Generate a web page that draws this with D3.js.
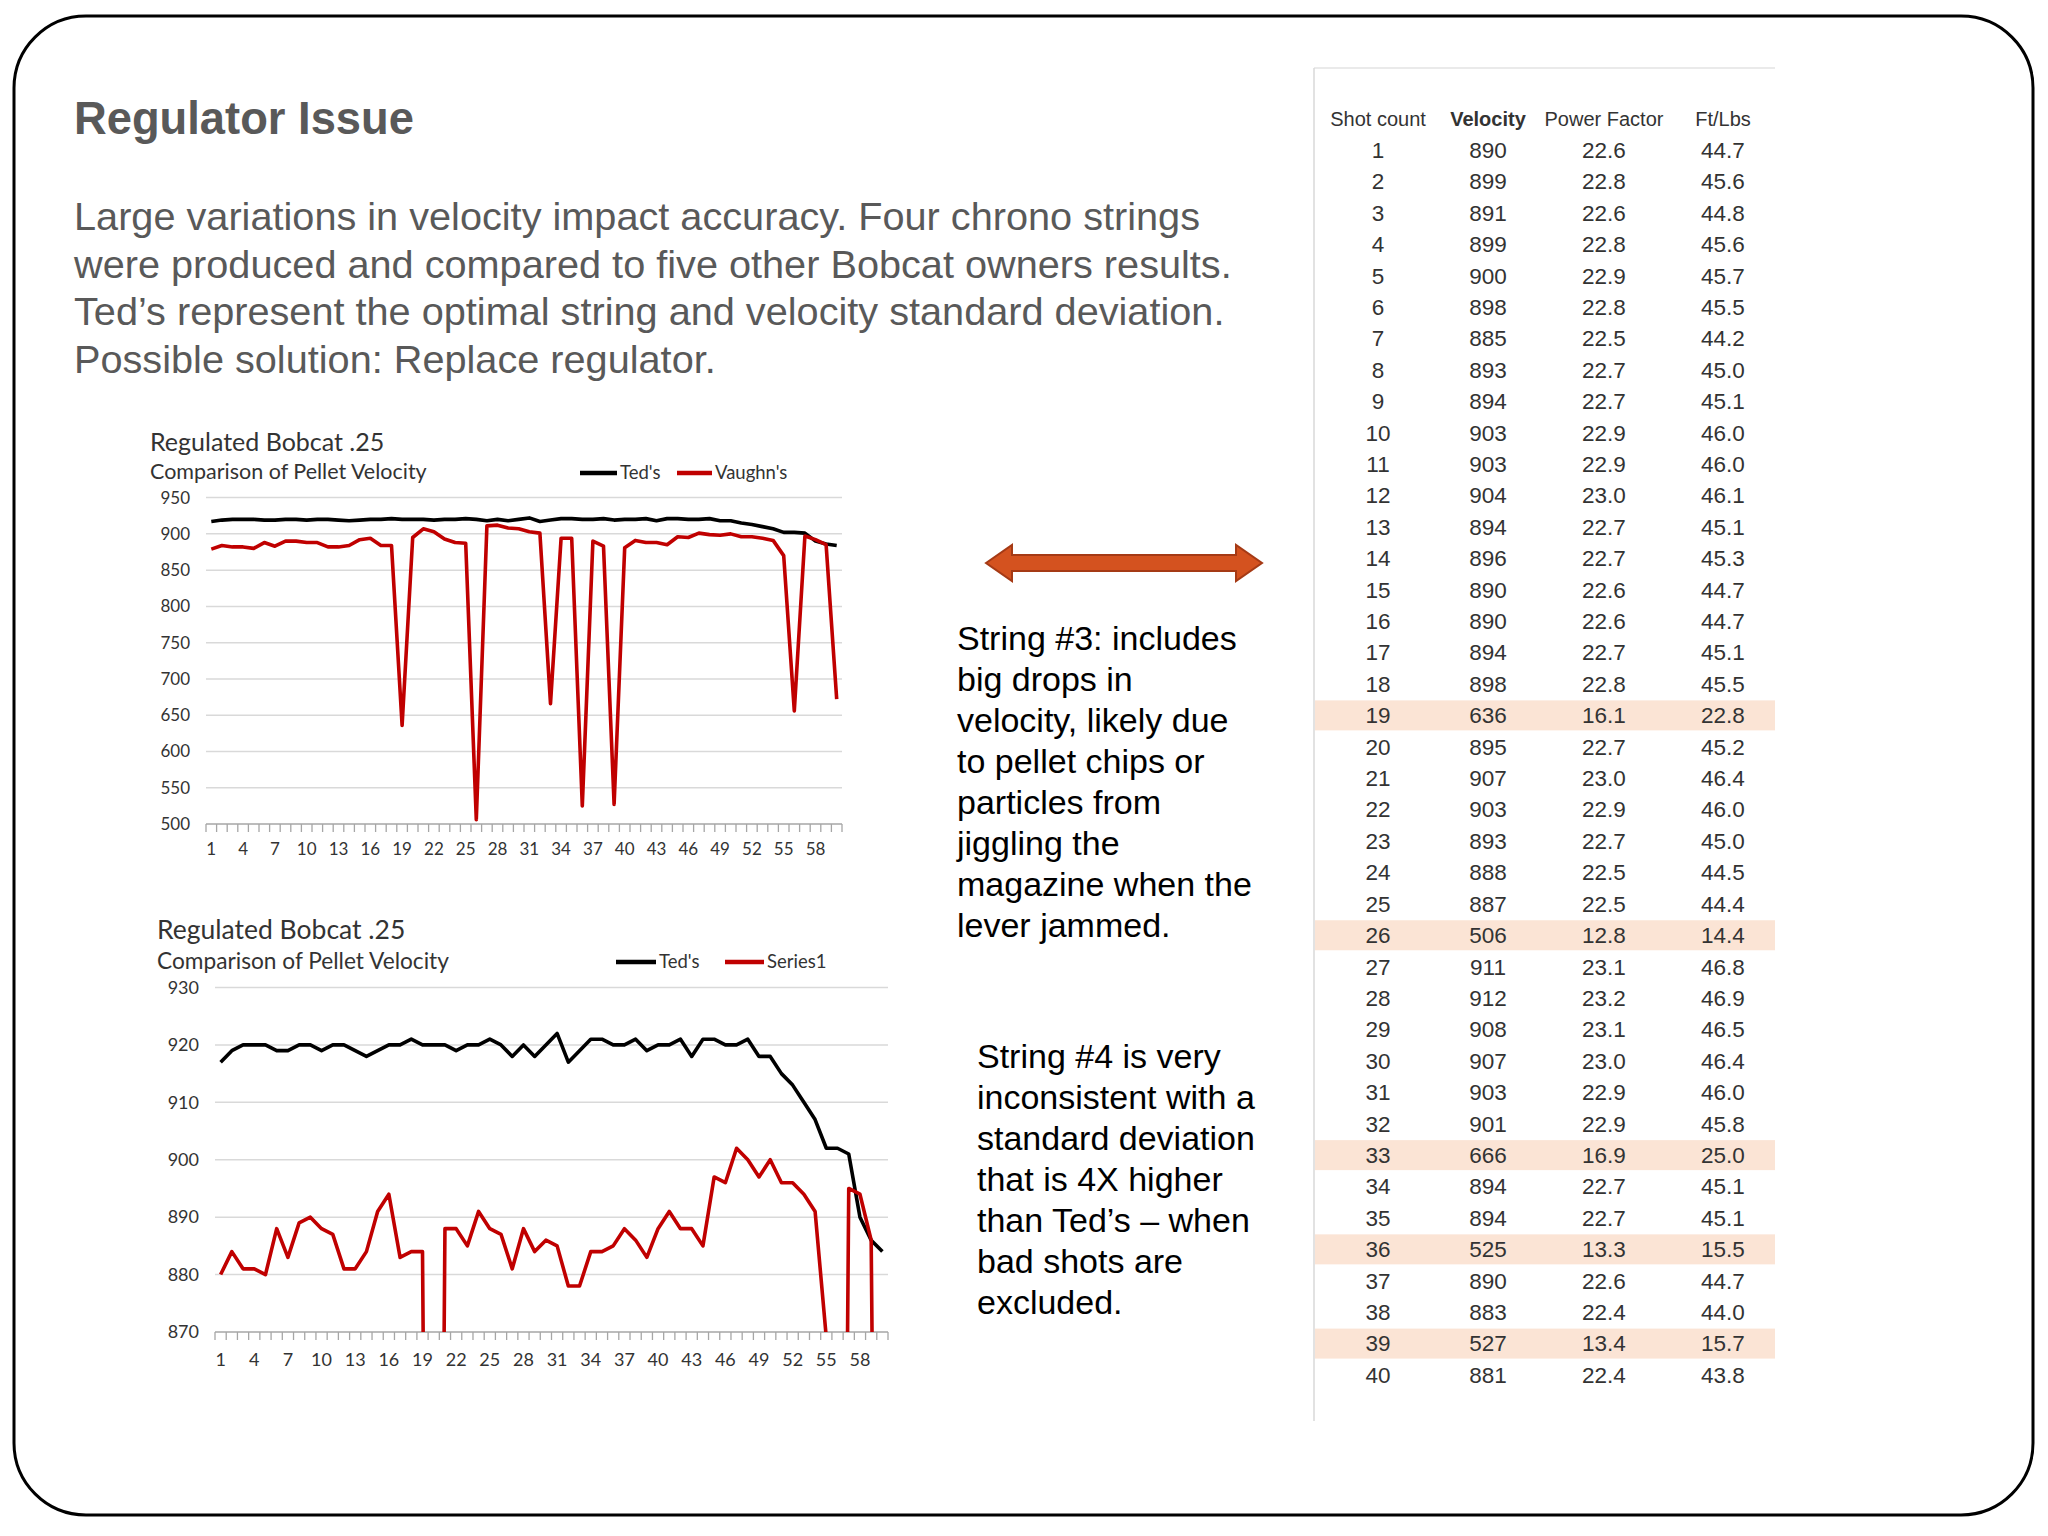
<!DOCTYPE html>
<html><head><meta charset="utf-8">
<script src="https://cdn.jsdelivr.net/npm/d3@7/dist/d3.min.js"></script>
<style>html,body{margin:0;padding:0;background:#fff;}svg{display:block}</style>
</head><body>
<svg id="c" width="2048" height="1536"></svg>
<script>
// ---------------- DATA ----------------
const shotCategories = [1,2,3,4,5,6,7,8,9,10,11,12,13,14,15,16,17,18,19,20,21,22,23,24,25,26,27,28,29,30,
  31,32,33,34,35,36,37,38,39,40,41,42,43,44,45,46,47,48,49,50,51,52,53,54,55,56,57,58,59,60];
const xTickLabels = [1,4,7,10,13,16,19,22,25,28,31,34,37,40,43,46,49,52,55,58];

const tedsVelocity = [917,919,920,920,920,919,919,920,920,919,920,920,919,918,919,920,920,921,920,920,
  920,919,920,920,921,920,918,920,918,920,922,917,919,921,921,920,920,921,919,920,
  920,921,918,921,921,920,920,921,918,918,915,913,910,907,902,902,901,890,886,884];
const vaughnsVelocity = [879,884,882,882,880,888,883,890,890,888,888,882,882,884,892,894,884,884,636,895,
  907,903,893,888,887,506,911,912,908,907,903,901,666,894,894,525,890,883,527,881,
  891,888,888,885,896,895,901,899,898,900,896,896,894,891,870,656,897,892,885,672];
const series1Velocity = [880,884,881,881,880,888,883,889,890,888,887,881,881,884,891,894,883,884,884,636,
  888,888,885,891,888,887,881,888,884,886,885,878,878,884,884,885,888,886,883,888,
  891,888,888,885,897,896,902,900,897,900,896,896,894,891,869,656,895,894,886,672];

const chart1YTicks = [500,550,600,650,700,750,800,850,900,950];
const chart2YTicks = [870,880,890,900,910,920,930];

const tableShot = [1,2,3,4,5,6,7,8,9,10,11,12,13,14,15,16,17,18,19,20,21,22,23,24,25,26,27,28,29,30,31,32,33,34,35,36,37,38,39,40];
const tableVelocity = [890,899,891,899,900,898,885,893,894,903,903,904,894,896,890,890,894,898,636,895,907,903,893,888,887,506,911,912,908,907,903,901,666,894,894,525,890,883,527,881];
const tablePowerFactor = [22.6,22.8,22.6,22.8,22.9,22.8,22.5,22.7,22.7,22.9,22.9,23.0,22.7,22.7,22.6,22.6,22.7,22.8,16.1,22.7,23.0,22.9,22.7,22.5,22.5,12.8,23.1,23.2,23.1,23.0,22.9,22.9,16.9,22.7,22.7,13.3,22.6,22.4,13.4,22.4];
const tableFtLbs = [44.7,45.6,44.8,45.6,45.7,45.5,44.2,45.0,45.1,46.0,46.0,46.1,45.1,45.3,44.7,44.7,45.1,45.5,22.8,45.2,46.4,46.0,45.0,44.5,44.4,14.4,46.8,46.9,46.5,46.4,46.0,45.8,25.0,45.1,45.1,15.5,44.7,44.0,15.7,43.8];
const tableHeaders = ["Shot count","Velocity","Power Factor","Ft/Lbs"];
const highlightedShots = [19,26,33,36,39];

const slideTitle = "Regulator Issue";
const paragraphLines = [
  "Large variations in velocity impact accuracy. Four chrono strings",
  "were produced and compared to five other Bobcat owners results.",
  "Ted\u2019s represent the optimal string and velocity standard deviation.",
  "Possible solution: Replace regulator."
];
const note3Lines = ["String #3: includes","big drops in","velocity, likely due","to pellet chips or","particles from","jiggling the","magazine when the","lever jammed."];
const note4Lines = ["String #4 is very","inconsistent with a","standard deviation","that is 4X higher","than Ted\u2019s \u2013 when","bad shots are","excluded."];

// ---------------- DRAW ----------------
const svg = d3.select("#c");
const SANS = "'Liberation Sans', Arial, sans-serif";
const CHARTFONT = "Lato, 'Open Sans', sans-serif";

svg.append("rect").attr("x",14).attr("y",16).attr("width",2019).attr("height",1499)
  .attr("rx",72).attr("ry",72).attr("fill","#fff").attr("stroke","#000").attr("stroke-width",3);

// title
const t = svg.append("text").attr("x",74).attr("y",134).attr("font-family",SANS)
  .attr("font-weight","bold").attr("font-size",44).attr("fill","#595959").text(slideTitle);
// paragraph
const para = svg.append("g");
const paraBase = [230,278,325,373];
paragraphLines.forEach((l,i)=>{
  para.append("text").attr("x",74).attr("y",paraBase[i]).attr("font-family",SANS)
    .attr("font-size",38).attr("fill","#595959").text(l);
});
{
  const w = para.selectAll("text").nodes()[1].getComputedTextLength();
  para.selectAll("text").attr("font-size",38*1158/w);
  const tw = t.node().getComputedTextLength();
  t.attr("font-size",44*340/tw);
}

function drawChart(cfg, seriesList) {
  const g = svg.append("g");
  const x = d3.scaleBand().domain(shotCategories).range([cfg.left,cfg.right]);
  const y = d3.scaleLinear().domain([cfg.yTicks[0], cfg.yTicks[cfg.yTicks.length-1]]).range([cfg.bottom,cfg.top]);
  const cx = c => x(c)+x.bandwidth()/2;
  g.append("text").attr("x",cfg.titleX).attr("y",cfg.titleY).attr("font-family",CHARTFONT)
    .attr("font-size",cfg.titleSize).attr("fill","#333").text("Regulated Bobcat .25");
  g.append("text").attr("x",cfg.titleX).attr("y",cfg.subY).attr("font-family",CHARTFONT)
    .attr("font-size",cfg.subSize).attr("fill","#333").text("Comparison of Pellet Velocity");
  g.selectAll(".grid").data(cfg.yTicks.slice(1)).enter().append("line")
    .attr("x1",cfg.left).attr("x2",cfg.right).attr("y1",d=>y(d)).attr("y2",d=>y(d))
    .attr("stroke","#d9d9d9").attr("stroke-width",1.5);
  g.selectAll(".ylab").data(cfg.yTicks).enter().append("text")
    .attr("x",cfg.left-cfg.yLabGap).attr("y",d=>y(d)).attr("dy","0.35em").attr("text-anchor","end")
    .attr("font-family",CHARTFONT).attr("font-size",cfg.labSize).attr("fill","#333").text(d=>d);
  g.append("line").attr("x1",cfg.left).attr("x2",cfg.right).attr("y1",cfg.bottom).attr("y2",cfg.bottom)
    .attr("stroke","#a6a6a6").attr("stroke-width",1.5);
  const bounds = shotCategories.map(c=>x(c)).concat([cfg.right]);
  g.selectAll(".tk").data(bounds).enter().append("line")
    .attr("x1",d=>d).attr("x2",d=>d).attr("y1",cfg.bottom).attr("y2",cfg.bottom+8)
    .attr("stroke","#a6a6a6").attr("stroke-width",1.3);
  g.selectAll(".xlab").data(xTickLabels).enter().append("text")
    .attr("x",d=>cx(d)).attr("y",cfg.xLabY).attr("text-anchor","middle")
    .attr("font-family",CHARTFONT).attr("font-size",cfg.labSize).attr("fill","#333").text(d=>d);
  const clipId = "clip"+cfg.id;
  g.append("clipPath").attr("id",clipId).append("rect")
    .attr("x",cfg.left).attr("y",cfg.top-10).attr("width",cfg.right-cfg.left).attr("height",cfg.bottom-cfg.top+10);
  const line = d3.line().x((d,i)=>cx(shotCategories[i])).y(d=>y(d));
  seriesList.forEach(s=>{
    g.append("path").attr("d",line(s.values)).attr("fill","none").attr("stroke",s.color)
      .attr("stroke-width",cfg.lineW).attr("stroke-linejoin","round").attr("clip-path",`url(#${clipId})`);
  });
  seriesList.forEach((s,i)=>{
    const L = cfg.legend[i];
    g.append("line").attr("x1",L[0]).attr("x2",L[1]).attr("y1",cfg.legY).attr("y2",cfg.legY)
      .attr("stroke",s.color).attr("stroke-width",4.5);
    g.append("text").attr("x",L[1]+3).attr("y",cfg.legY).attr("dy","0.35em")
      .attr("font-family",CHARTFONT).attr("font-size",cfg.legSize).attr("fill","#333").text(s.name);
  });
}

drawChart({id:1,left:206,right:842,top:497.6,bottom:824,yTicks:chart1YTicks,
  titleX:150,titleY:451,titleSize:25,subY:479,subSize:21.5,yLabGap:16,labSize:17,xLabY:855,
  lineW:3.6,legY:473,legSize:18.5,legend:[[580,617],[677,712]]},
  [{name:"Ted's",values:tedsVelocity,color:"#000"},{name:"Vaughn's",values:vaughnsVelocity,color:"#c00000"}]);

drawChart({id:2,left:215,right:888,top:987.5,bottom:1332,yTicks:chart2YTicks,
  titleX:157,titleY:939,titleSize:26.5,subY:969,subSize:22.7,yLabGap:16,labSize:18,xLabY:1366,
  lineW:3.6,legY:962,legSize:18.5,legend:[[616,656],[725,764]]},
  [{name:"Ted's",values:tedsVelocity,color:"#000"},{name:"Series1",values:series1Velocity,color:"#c00000"}]);

{
  const x0=986,x1=1262,yc=563,sh=8,hh=18,hl=26;
  const pts=[[x0,yc],[x0+hl,yc-hh],[x0+hl,yc-sh],[x1-hl,yc-sh],[x1-hl,yc-hh],[x1,yc],
    [x1-hl,yc+hh],[x1-hl,yc+sh],[x0+hl,yc+sh],[x0+hl,yc+hh]];
  svg.append("path").attr("d",d3.line()(pts)+"Z").attr("fill","#d4521f")
    .attr("stroke","#a53a15").attr("stroke-width",2).attr("stroke-linejoin","miter");
}
note3Lines.forEach((l,i)=>{
  svg.append("text").attr("x",957).attr("y",650+i*41).attr("font-family",SANS)
    .attr("font-size",34).attr("fill","#000").text(l);
});
note4Lines.forEach((l,i)=>{
  svg.append("text").attr("x",977).attr("y",1068+i*41).attr("font-family",SANS)
    .attr("font-size",34).attr("fill","#000").text(l);
});

{
  const tg = svg.append("g");
  const colX = [1378,1488,1604,1723];
  const rowY = d3.scaleLinear().domain([1,40]).range([150,1375]);
  tg.append("line").attr("x1",1314).attr("x2",1775).attr("y1",68).attr("y2",68).attr("stroke","#e3e3e3").attr("stroke-width",1.5);
  tg.append("line").attr("x1",1314).attr("x2",1314).attr("y1",68).attr("y2",1421).attr("stroke","#d9d9d9").attr("stroke-width",1.5);
  tg.selectAll(".hl").data(highlightedShots).enter().append("rect")
    .attr("x",1315).attr("width",460).attr("y",d=>rowY(d)-15).attr("height",30).attr("fill","#fbe4d5");
  tableHeaders.forEach((h,i)=>{
    tg.append("text").attr("x",colX[i]).attr("y",119).attr("dy","0.35em").attr("text-anchor","middle")
      .attr("font-family",SANS).attr("font-size",20).attr("font-weight",i===1?"bold":"normal")
      .attr("fill","#333").text(h);
  });
  const cols = [tableShot.map(String), tableVelocity.map(String),
    tablePowerFactor.map(d=>d.toFixed(1)), tableFtLbs.map(d=>d.toFixed(1))];
  cols.forEach((col,ci)=>{
    tg.selectAll(".c"+ci).data(col).enter().append("text")
      .attr("x",colX[ci]).attr("y",(d,i)=>rowY(tableShot[i])).attr("dy","0.35em").attr("text-anchor","middle")
      .attr("font-family",SANS).attr("font-size",22.5).attr("fill","#333").text(d=>d);
  });
}
</script>
</body></html>
